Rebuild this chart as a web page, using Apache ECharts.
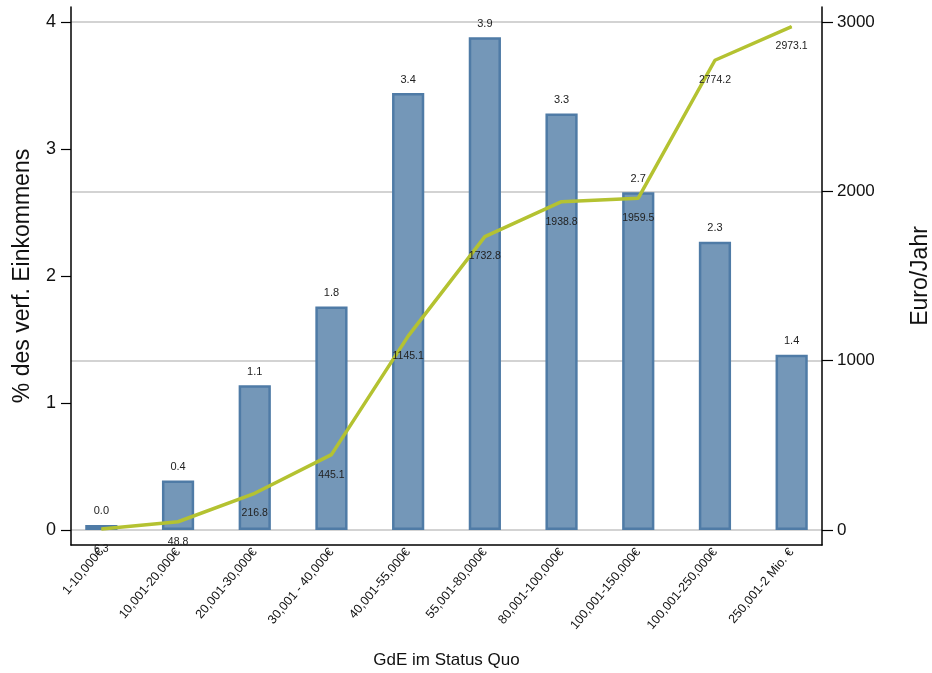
<!DOCTYPE html>
<html><head><meta charset="utf-8">
<script src="https://cdn.jsdelivr.net/npm/echarts@6/dist/echarts.min.js"></script>
<style>html,body{margin:0;padding:0;background:#fff}#c{width:932px;height:673px}</style>
</head><body><div id="c"></div>
<script>
var categories = ["1-10,000€","10,001-20,000€","20,001-30,000€","30,001 - 40,000€","40,001-55,000€","55,001-80,000€","80,001-100,000€","100,001-150,000€","100,001-250,000€","250,001-2 Mio. €"];
var pctValues = [0.04,0.39,1.14,1.76,3.44,3.88,3.28,2.66,2.27,1.38];
var euroValues = [6.3,48.8,216.8,445.1,1145.1,1732.8,1938.8,1959.5,2774.2,2973.1];
var leftTicks = [0,1,2,3,4];
var rightTicks = [0,1000,2000,3000];

var FONT = "'Liberation Sans', Arial, sans-serif";
var chart = echarts.init(document.getElementById('c'), null, {renderer:'canvas'});
chart.setOption({
  backgroundColor:'#fff',
  animation:false,
  textStyle:{fontFamily:FONT},
  grid:[
    {left:63, right:102, top:22, bottom:143, outerBoundsMode:'none', containLabel:false},   // data
    {left:71, right:110, top:22, bottom:143, outerBoundsMode:'none', containLabel:false},   // ticks + gridlines
    {left:71, right:110, top:7, bottom:128, outerBoundsMode:'none', containLabel:false}     // axis frame lines
  ],
  xAxis:[
    {type:'category', gridIndex:0, data:categories, boundaryGap:true, offset:15,
     axisLine:{show:false}, axisTick:{show:false},
     axisLabel:{rotate:50, interval:0, fontSize:12.5, color:'#111', fontFamily:FONT, margin:5},
     name:'GdE im Status Quo', nameLocation:'middle', nameGap:107,
     nameTextStyle:{fontSize:17, color:'#111', fontFamily:FONT}},
    {type:'category', gridIndex:1, data:categories, show:false},
    {type:'category', gridIndex:2, data:categories, axisLine:{show:true, lineStyle:{color:'#000', width:1.5}},
     axisTick:{show:false}, axisLabel:{show:false}}
  ],
  yAxis:[
    {type:'value', gridIndex:0, min:0, max:4, show:false},
    {type:'value', gridIndex:0, min:0, max:3000, show:false},
    {type:'value', gridIndex:1, min:0, max:4, interval:1, position:'left',
     axisLine:{show:false}, axisTick:{show:true, length:10, lineStyle:{color:'#000', width:1.2}},
     axisLabel:{fontSize:18, color:'#111', fontFamily:FONT, margin:15,
       formatter:function(v){return leftTicks.indexOf(v)>=0 ? String(v) : '';}},
     splitLine:{show:false},
     name:'% des verf. Einkommens', nameLocation:'middle', nameGap:37,
     nameTextStyle:{fontSize:23, color:'#111', fontFamily:FONT}},
    {type:'value', gridIndex:1, min:0, max:3000, interval:1000, position:'right',
     axisLine:{show:false}, axisTick:{show:true, length:11, lineStyle:{color:'#000', width:1.2}},
     axisLabel:{fontSize:17, color:'#111', fontFamily:FONT, margin:15,
       formatter:function(v){return rightTicks.indexOf(v)>=0 ? String(v) : '';}},
     splitLine:{show:true, lineStyle:{color:'#c4c4c4', width:1.5}},
     name:'Euro/Jahr', nameLocation:'middle', nameGap:87,
     nameTextStyle:{fontSize:23, color:'#111', fontFamily:FONT}},
    {type:'value', gridIndex:2, position:'left', axisLine:{show:true, lineStyle:{color:'#000', width:1.5}},
     axisTick:{show:false}, axisLabel:{show:false}, splitLine:{show:false}},
    {type:'value', gridIndex:2, position:'right', axisLine:{show:true, lineStyle:{color:'#000', width:1.5}},
     axisTick:{show:false}, axisLabel:{show:false}, splitLine:{show:false}}
  ],
  series:[
    {type:'bar', xAxisIndex:0, yAxisIndex:0, data:pctValues, barWidth:'42%',
     itemStyle:{color:'#7497b8', borderColor:'#4f7ba6', borderWidth:2.5},
     label:{show:true, position:'top', distance:8, fontSize:11, color:'#222', fontFamily:FONT,
       formatter:function(p){return p.value.toFixed(1);}}, z:2},
    {type:'line', xAxisIndex:0, yAxisIndex:1, data:euroValues, symbol:'circle', symbolSize:1, showSymbol:true,
     itemStyle:{color:'#b4c231'},
     lineStyle:{color:'#b4c231', width:3.5}, z:3,
     label:{show:true, position:'bottom', distance:14, fontSize:10.5, color:'#222', fontFamily:FONT,
       formatter:function(p){return p.value.toFixed(1);}}}
  ]
});
</script></body></html>
